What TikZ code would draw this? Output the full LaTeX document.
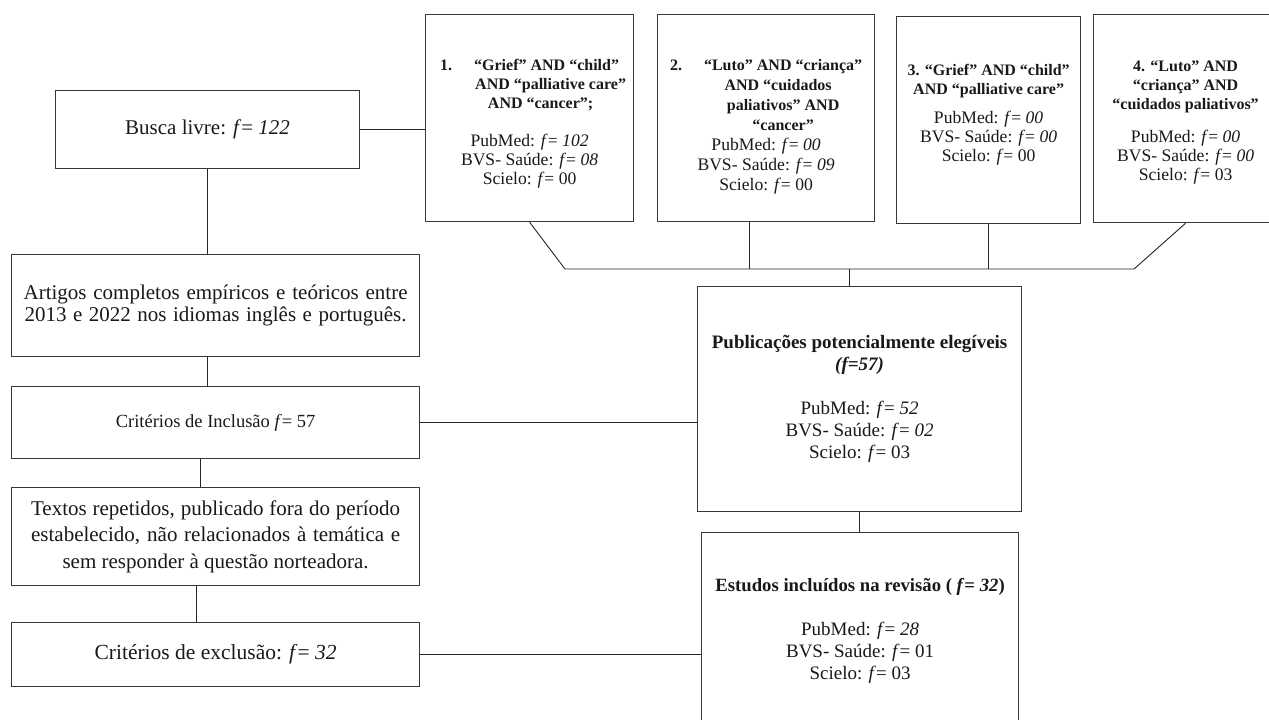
\documentclass[tikz,border=0pt]{standalone}
\usepackage{fontspec}
\setmainfont{Liberation Serif}
\newcommand{\fit}[1]{\textit{f}= \textit{#1}}
\newcommand{\frm}[1]{\textit{f}= #1}
\newcommand{\hd}[1]{{\fontsize{16}{19}\selectfont\textbf{#1}}}
\begin{document}
\begin{tikzpicture}[x=1pt,y=-1pt,
  box/.style={draw=black!78, line width=1.2pt, rectangle, inner sep=0pt, anchor=north west, align=center, text=black!90},
  conn/.style={draw=black!85, line width=0.9pt},
  small/.style={font=\fontsize{17.6}{19}\selectfont},
  mid/.style={font=\fontsize{19}{22}\selectfont}]
\useasboundingbox[fill=white] (0,0) rectangle (1269,720);

% left column
\node[box, minimum width=304pt, minimum height=78pt, font=\fontsize{21}{24}\selectfont] (busca) at (55,90) {Busca livre: \fit{122}};
\node[box, minimum width=408pt, minimum height=102pt, font=\fontsize{21}{22}\selectfont] (artigos) at (11,254)
  {\makebox[384pt][s]{Artigos completos empíricos e teóricos entre}\\ \makebox[382pt][s]{2013 e 2022 nos idiomas inglês e português.}};
\node[box, minimum width=408pt, minimum height=72pt, font=\fontsize{18.5}{19}\selectfont] (incl) at (11,386) {Critérios de Inclusão \frm{57}};
\node[box, minimum width=408pt, minimum height=98pt, font=\fontsize{21}{26.5}\selectfont] (textos) at (11,487)
  {\makebox[369pt][s]{Textos repetidos, publicado fora do período}\\ \makebox[369pt][s]{estabelecido, não relacionados à temática e}\\ sem responder à questão norteadora.};
\node[box, minimum width=408pt, minimum height=64pt, font=\fontsize{21.5}{23}\selectfont] (excl) at (11,622) {Critérios de exclusão: \fit{32}};

% top query boxes
\node[box, small, minimum width=208pt, minimum height=207pt] (q1) at (425,14)
  {\rule{0pt}{3pt}\\
   \hd{1.\hspace{22pt}“Grief” AND “child”}\\
   \hspace*{42pt}\hd{AND “palliative care”}\\
   \hspace*{22pt}\hd{AND “cancer”;}\\[19pt]
   PubMed: \fit{102}\\ BVS- Saúde: \fit{08}\\ Scielo: \frm{00}};
\node[box, font=\fontsize{17.6}{20}\selectfont, minimum width=217pt, minimum height=207pt] (q2) at (657,14)
  {\rule{0pt}{8pt}\\
   \hd{2.\hspace{22pt}“Luto” AND “criança”}\\
   \hspace*{24pt}\hd{AND “cuidados}\\
   \hspace*{34pt}\hd{paliativos” AND}\\
   \hspace*{34pt}\hd{“cancer”}\\
   PubMed: \fit{00}\\ BVS- Saúde: \fit{09}\\ Scielo: \frm{00}};
\node[box, small, minimum width=184pt, minimum height=207pt] (q3) at (896,16)
  {\hd{3. “Grief” AND “child”}\\
   \hd{AND “palliative care”}\\[10pt]
   PubMed: \fit{00}\\ BVS- Saúde: \fit{00}\\ Scielo: \frm{00}\\[-4pt]\mbox{}};
\node[box, small, minimum width=184pt, minimum height=208pt] (q4) at (1093,14)
  {\rule{0pt}{0pt}\\
   \hd{4. “Luto” AND}\\
   \hd{“criança” AND}\\
   \hd{“cuidados paliativos”}\\[14pt]
   PubMed: \fit{00}\\ BVS- Saúde: \fit{00}\\ Scielo: \frm{03}};

% right column
\node[box, mid, minimum width=324pt, minimum height=225pt] (pub) at (697,286)
  {{\fontsize{19}{23}\selectfont\textbf{Publicações potencialmente elegíveis}}\\
   {\fontsize{19}{23}\selectfont\textbf{\textit{(f=57)}}}\\[22pt]
   PubMed: \fit{52}\\ BVS- Saúde: \fit{02}\\ Scielo: \frm{03}};
\node[box, mid, minimum width=317pt, minimum height=196pt] (est) at (701,532)
  {{\fontsize{18.7}{23}\selectfont\textbf{Estudos incluídos na revisão ( \textit{f}= \textit{32})}}\\[22pt]
   PubMed: \fit{28}\\ BVS- Saúde: \frm{01}\\ Scielo: \frm{03}};

% helper coordinates
\coordinate (tl) at (565,269);
\coordinate (tr) at (1134,269);
\coordinate (tm) at (849,269);
\coordinate (v2) at (749,269);
\coordinate (v3) at (988,269);
\coordinate (c1) at (200,0);
\coordinate (c2) at (196,0);

% connectors
\draw[conn] (busca.east) -- (busca.east -| q1.west);
\draw[conn] (busca.south) -- (busca.south |- artigos.north);
\draw[conn] (busca.south |- artigos.south) -- (busca.south |- incl.north);
\draw[conn] (c1 |- incl.south) -- (c1 |- textos.north);
\draw[conn] (c2 |- textos.south) -- (c2 |- excl.north);
\draw[conn] (incl.east) -- (incl.east -| pub.west);
\draw[conn] (excl.east) -- (excl.east -| est.west);
\draw[conn] (pub.south) -- (pub.south |- est.north);
\draw[conn] (q1.south) -- (tl) -- (tr) -- (q4.south);
\draw[conn] (v2 |- q2.south) -- (v2);
\draw[conn] (v3 |- q3.south) -- (v3);
\draw[conn] (tm) -- (tm |- pub.north);
\end{tikzpicture}
\end{document}
